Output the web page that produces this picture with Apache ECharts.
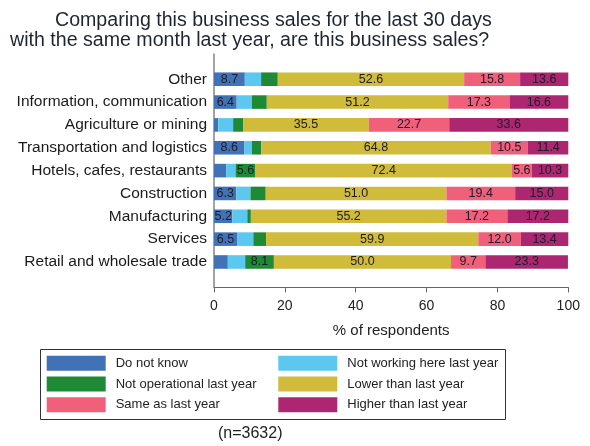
<!DOCTYPE html>
<html>
<head>
<meta charset="utf-8">
<script src="https://cdn.jsdelivr.net/npm/echarts@6/dist/echarts.min.js"></script>
<style>html,body{margin:0;padding:0;background:#fff;}#c{width:590px;height:446px;}</style>
</head>
<body>
<div id="c"></div>
<script>
var categories = ["Other", "Information, communication", "Agriculture or mining", "Transportation and logistics", "Hotels, cafes, restaurants", "Construction", "Manufacturing", "Services", "Retail and wholesale trade"];
var seriesNames = ["Do not know", "Not working here last year", "Not operational last year", "Lower than last year", "Same as last year", "Higher than last year"];
var doNotKnow      = [8.7, 6.4, 1.2, 8.6, 3.5, 6.3, 5.2, 6.5, 3.9];
var notWorking     = [4.6, 4.3, 4.2, 2.1, 2.6, 4.0, 4.2, 4.6, 4.9];
var notOperational = [4.7, 4.2, 2.8, 2.6, 5.6, 4.3, 1.0, 3.6, 8.1];
var lowerThan      = [52.6, 51.2, 35.5, 64.8, 72.4, 51.0, 55.2, 59.9, 50.0];
var sameAs         = [15.8, 17.3, 22.7, 10.5, 5.6, 19.4, 17.2, 12.0, 9.7];
var higherThan     = [13.6, 16.6, 33.6, 11.4, 10.3, 15.0, 17.2, 13.4, 23.3];
var xTicks = [0, 20, 40, 60, 80, 100];

var values = [doNotKnow, notWorking, notOperational, lowerThan, sameAs, higherThan];
var colors = ["#4272b6", "#5cc8ef", "#1f8a36", "#d0bb3a", "#f1607a", "#ad2670"];

var chart = echarts.init(document.getElementById('c'), null, {renderer: 'canvas'});
var FONT = 'Liberation Sans, Arial, sans-serif';

var series = values.map(function (arr, i) {
  return {
    name: seriesNames[i],
    type: 'bar',
    stack: 'total',
    barWidth: 13.6,
    data: arr,
    itemStyle: {color: colors[i]},
    label: {
      show: true,
      position: 'inside',
      color: '#1c1c2a',
      fontFamily: FONT,
      fontSize: 12.5,
      formatter: function (p) { return p.value >= 5 ? p.value.toFixed(1) : ''; }
    },
    emphasis: {disabled: true}
  };
});

var option = {
  animation: false,
  backgroundColor: '#ffffff',
  grid: {left: 214, right: 21.7, top: 67.8, bottom: 172.6, containLabel: false},
  xAxis: {
    type: 'value',
    min: 0, max: 100, interval: 20,
    offset: 14,
    axisLine: {show: true, lineStyle: {color: '#666', width: 1.2}},
    axisTick: {show: true, length: 5, lineStyle: {color: '#666'}},
    splitLine: {show: false},
    axisLabel: {color: '#222', fontFamily: FONT, fontSize: 14, margin: 12,
      formatter: function (v) { return xTicks.indexOf(v) >= 0 ? String(v) : ''; }},
    name: '% of respondents',
    nameLocation: 'middle',
    nameGap: 36,
    nameTextStyle: {color: '#222', fontFamily: FONT, fontSize: 15}
  },
  yAxis: {
    type: 'category',
    data: categories,
    inverse: true,
    axisLine: {show: false},
    axisTick: {show: false},
    axisLabel: {color: '#1a1a1a', fontFamily: FONT, fontSize: 15.5, margin: 7}
  },
  legend: [
    {
      orient: 'vertical', left: 46.7, top: 355.7,
      itemWidth: 59, itemHeight: 15, itemGap: 5.8, icon: 'rect',
      data: [seriesNames[0], seriesNames[2], seriesNames[4]],
      textStyle: {color: '#222', fontFamily: FONT, fontSize: 13, padding: [0, 0, 0, 5]},
      selectedMode: false, padding: 0
    },
    {
      orient: 'vertical', left: 278.3, top: 355.7,
      itemWidth: 59, itemHeight: 15, itemGap: 5.8, icon: 'rect',
      data: [seriesNames[1], seriesNames[3], seriesNames[5]],
      textStyle: {color: '#222', fontFamily: FONT, fontSize: 13, padding: [0, 0, 0, 5]},
      selectedMode: false, padding: 0
    }
  ],
  graphic: [
    {type: 'text', left: 55, top: 11, style: {text: 'Comparing this business sales for the last 30 days', fill: '#1e2433', font: '19.6px ' + FONT}},
    {type: 'text', left: 10, top: 31, style: {text: 'with the same month last year, are this business sales?', fill: '#1e2433', font: '19.6px ' + FONT}},
    {type: 'line', shape: {x1: 214, y1: 53.5, x2: 214, y2: 287.5}, style: {stroke: '#666', lineWidth: 1.2}, silent: true},
    {type: 'rect', shape: {x: 40.5, y: 349.5, width: 465, height: 70}, style: {fill: 'none', stroke: '#333', lineWidth: 1}, silent: true},
    {type: 'text', left: 218, top: 426, style: {text: '(n=3632)', fill: '#222', font: '16px ' + FONT}}
  ],
  series: series
};
chart.setOption(option);
</script>
</body>
</html>
